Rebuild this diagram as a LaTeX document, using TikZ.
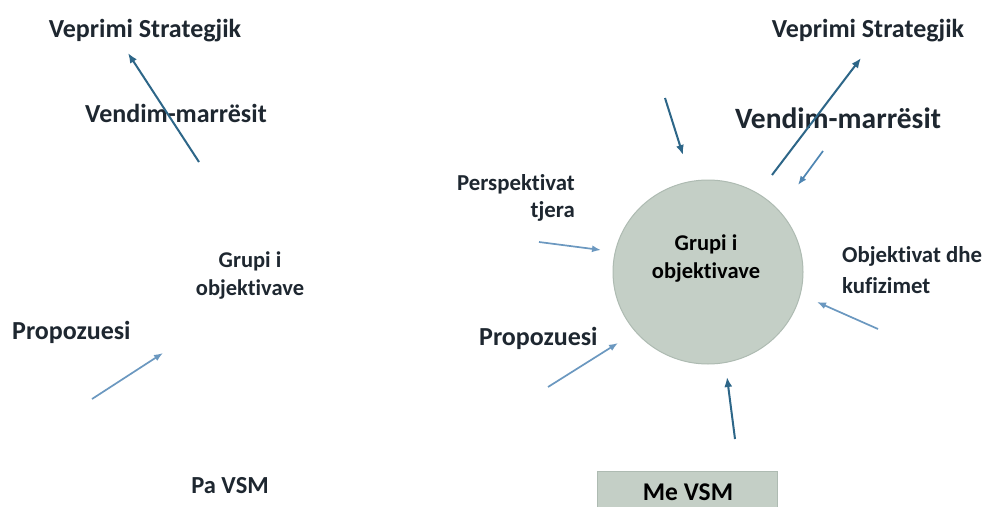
\documentclass[tikz,border=0pt]{standalone}
\usepackage{fontspec}
\setmainfont{Carlito}[Ligatures={NoCommon}]
\usetikzlibrary{arrows.meta,shapes.geometric}
\definecolor{txt}{HTML}{1E2730}
\definecolor{darkarr}{HTML}{2D6688}
\definecolor{lightarr}{HTML}{6B98C0}
\definecolor{midarr}{HTML}{4F86B3}
\definecolor{sage}{HTML}{C4CFC6}
\definecolor{sageline}{HTML}{AEBBB2}
\tikzset{
  lbl/.style={font=\bfseries\fontsize{26}{30}\selectfont, text=txt, inner sep=0pt},
  lblsmall/.style={font=\bfseries\fontsize{22.5}{28}\selectfont, text=txt, inner sep=0pt},
  darkarrow/.style={draw=darkarr, line width=2pt, -{Latex[length=10pt,width=8pt]}},
  lightarrow/.style={draw=lightarr, line width=1.7pt, -{Latex[length=9pt,width=7pt]}},
  midarrow/.style={draw=midarr, line width=1.7pt, -{Latex[length=9pt,width=7pt]}},
}
\begin{document}
\begin{tikzpicture}[x=1pt,y=-1pt]
\useasboundingbox[fill=white] (0,0) rectangle (985,506);
% ---------- left panel (Pa VSM) ----------
\node[lbl, anchor=base] (lvs) at (145,37) {Veprimi Strategjik};
\node[lbl, anchor=base] (lvm) at (176,122) {Vendim-marrësit};
\node[lblsmall, align=center] (lgo) at (250,276) {Grupi i\\objektivave};
\node[lbl, anchor=base west] (lpr) at (12,339) {Propozuesi};
\node[font=\bfseries\fontsize{24.5}{28}\selectfont, text=txt, inner sep=0pt, anchor=base] (lpa) at (230,493) {Pa VSM};
\coordinate (la1s) at (199,162);
\coordinate (la1e) at (128,53);
\coordinate (la2s) at (92,399);
\coordinate (la2e) at (163,353);
\draw[darkarrow] (la1s) -- (la1e);
\draw[lightarrow] (la2s) -- (la2e);
% ---------- right panel (Me VSM) ----------
\node[ellipse, fill=sage, draw=sageline, line width=1pt, minimum width=190pt, minimum height=184pt, inner sep=0pt] (circ) at (708,272) {};
\node[lblsmall, text=black, align=center] (rgo) at (706,259) {Grupi i\\objektivave};
\node[lbl, anchor=base] (rvs) at (868,37) {Veprimi Strategjik};
\node[font=\bfseries\fontsize{29.5}{34}\selectfont, text=txt, inner sep=0pt, anchor=base] (rvm) at (838,128) {Vendim-marrësit};
\node[font=\bfseries\fontsize{22.8}{27}\selectfont, text=txt, inner sep=0pt, align=right, anchor=east] (rpe) at (575,198) {Perspektivat\\tjera};
\node[font=\bfseries\fontsize{22.8}{31}\selectfont, text=txt, inner sep=0pt, align=left, anchor=west] (rob) at (842,270) {Objektivat dhe\\kufizimet};
\node[lbl, anchor=base west] (rpr) at (479,345) {Propozuesi};
\node[rectangle, fill=sage, draw=sageline, line width=1pt, minimum width=180pt, minimum height=50pt, inner sep=0pt, anchor=north] (rbox) at (687,471) {};
\node[font=\bfseries\fontsize{25.5}{30}\selectfont, text=black, inner sep=0pt, anchor=base] (rme) at (688,500) {Me VSM};
\coordinate (ra1s) at (772,175);
\coordinate (ra1e) at (861,58);
\coordinate (ra2s) at (665,98);
\coordinate (ra2e) at (683,155);
\coordinate (ra3s) at (823,151);
\coordinate (ra3e) at (798,185);
\coordinate (ra4s) at (539,242);
\coordinate (ra4e) at (601,250);
\coordinate (ra5s) at (548,387);
\coordinate (ra5e) at (618,343);
\coordinate (ra6s) at (878,329);
\coordinate (ra6e) at (817,302);
\coordinate (ra7s) at (735,439);
\coordinate (ra7e) at (727,377);
\draw[darkarrow] (ra1s) -- (ra1e);
\draw[darkarrow] (ra2s) -- (ra2e);
\draw[midarrow] (ra3s) -- (ra3e);
\draw[lightarrow] (ra4s) -- (ra4e);
\draw[lightarrow] (ra5s) -- (ra5e);
\draw[lightarrow] (ra6s) -- (ra6e);
\draw[darkarrow] (ra7s) -- (ra7e);
\end{tikzpicture}
\end{document}
